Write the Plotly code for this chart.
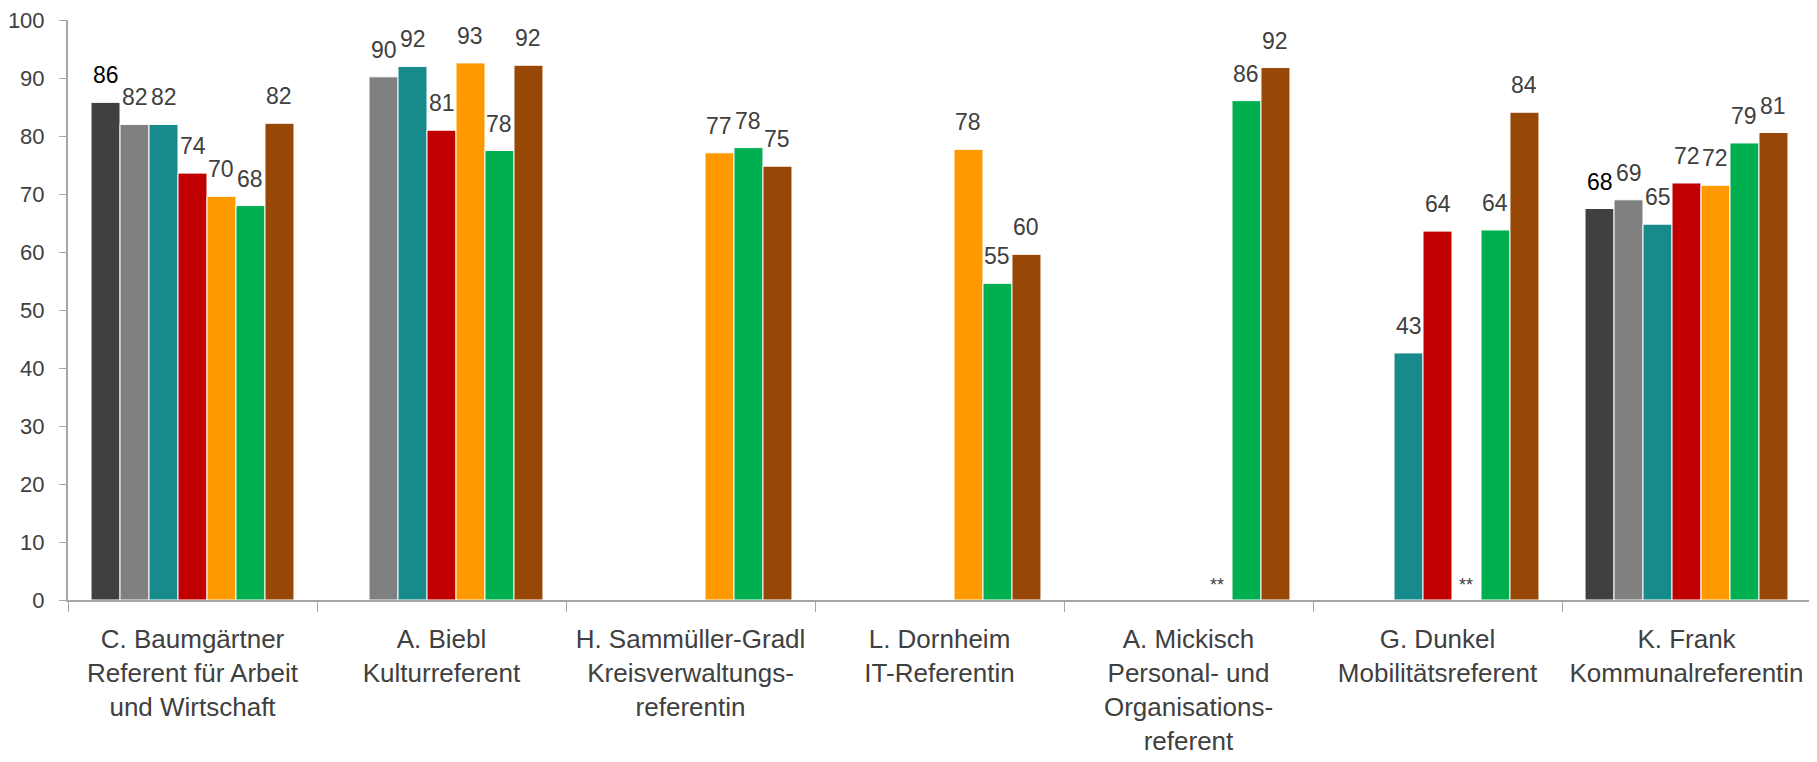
import plotly.graph_objects as go

categories = [
    "C. Baumgärtner<br>Referent für Arbeit<br>und Wirtschaft",
    "A. Biebl<br>Kulturreferent",
    "H. Sammüller-Gradl<br>Kreisverwaltungs-<br>referentin",
    "L. Dornheim<br>IT-Referentin",
    "A. Mickisch<br>Personal- und<br>Organisations-<br>referent",
    "G. Dunkel<br>Mobilitätsreferent",
    "K. Frank<br>Kommunalreferentin",
]

series_names = ["Reihe 1", "Reihe 2", "Reihe 3", "Reihe 4", "Reihe 5", "Reihe 6", "Reihe 7"]
series_colors = ["#404040", "#808080", "#178A8C", "#C00000", "#FF9900", "#00B050", "#974706"]
label_colors = ["#000000", "#404040", "#404040", "#404040", "#404040", "#404040", "#404040"]

s1 = [85.8, None, None, None, None, None, 67.5]
s2 = [82.0, 90.2, None, None, None, None, 69.0]
s3 = [82.0, 92.0, None, None, None, 42.6, 64.8]
s4 = [73.6, 81.0, None, None, None, 63.6, 71.9]
s5 = [69.6, 92.6, 77.1, 77.7, None, None, 71.5]
s6 = [68.0, 77.5, 78.0, 54.6, 86.1, 63.8, 78.8]
s7 = [82.2, 92.2, 74.8, 59.6, 91.8, 84.1, 80.6]
series_values = [s1, s2, s3, s4, s5, s6, s7]

# groups where a series is marked "**" (not reported)
not_reported = {4: [4, 5]}  # series index -> group indices

FONT = "Liberation Sans Narrow, Arial Narrow, Liberation Sans, Arial, sans-serif"
BARGAP = 0.185

fig = go.Figure()
for name, vals, col in zip(series_names, series_values, series_colors):
    fig.add_trace(go.Bar(
        name=name, x=categories, y=vals,
        marker=dict(color=col, line=dict(color="white", width=1)),
        hoverinfo="y",
    ))

n = len(series_values)
slot = (1 - BARGAP) / n
annotations = []
for si, vals in enumerate(series_values):
    off = (si - (n - 1) / 2) * slot
    for gi, v in enumerate(vals):
        if v is None:
            continue
        annotations.append(dict(
            x=gi + off, y=v, xref="x", yref="y", text=str(int(round(v))),
            showarrow=False, yanchor="bottom", yshift=12,
            font=dict(family=FONT, size=23, color=label_colors[si]),
        ))
for si, groups in not_reported.items():
    off = (si - (n - 1) / 2) * slot
    for gi in groups:
        annotations.append(dict(
            x=gi + off, y=0, xref="x", yref="y", text="**",
            showarrow=False, yanchor="bottom", yshift=3,
            font=dict(family=FONT, size=18, color="#404040"),
        ))

fig.update_layout(
    width=1809, height=754,
    margin=dict(l=60, r=6, t=12, b=162),
    barmode="group", bargap=BARGAP, bargroupgap=0,
    showlegend=False,
    plot_bgcolor="white", paper_bgcolor="white",
    font=dict(family=FONT, size=24, color="#404040"),
    annotations=annotations,
)
fig.update_xaxes(
    type="category", showline=True, linecolor="#A6A6A6", linewidth=2,
    ticks="outside", tickson="boundaries", ticklen=10, tickcolor="#A6A6A6", tickwidth=1,
    tickangle=0, automargin=False, ticklabelstandoff=15, ticklabeloverflow="allow",
    tickfont=dict(family=FONT, size=26, color="#404040"),
    showgrid=False, zeroline=False,
)
fig.update_yaxes(
    range=[0, 100], dtick=10, showline=True, linecolor="#A6A6A6", linewidth=2,
    ticks="outside", ticklen=7, tickcolor="#A6A6A6", tickwidth=1, automargin=False,
    ticklabelstandoff=10, ticklabeloverflow="allow",
    tickfont=dict(family=FONT, size=22, color="#404040"),
    showgrid=False, zeroline=False,
)

fig.write_html("out.html")
